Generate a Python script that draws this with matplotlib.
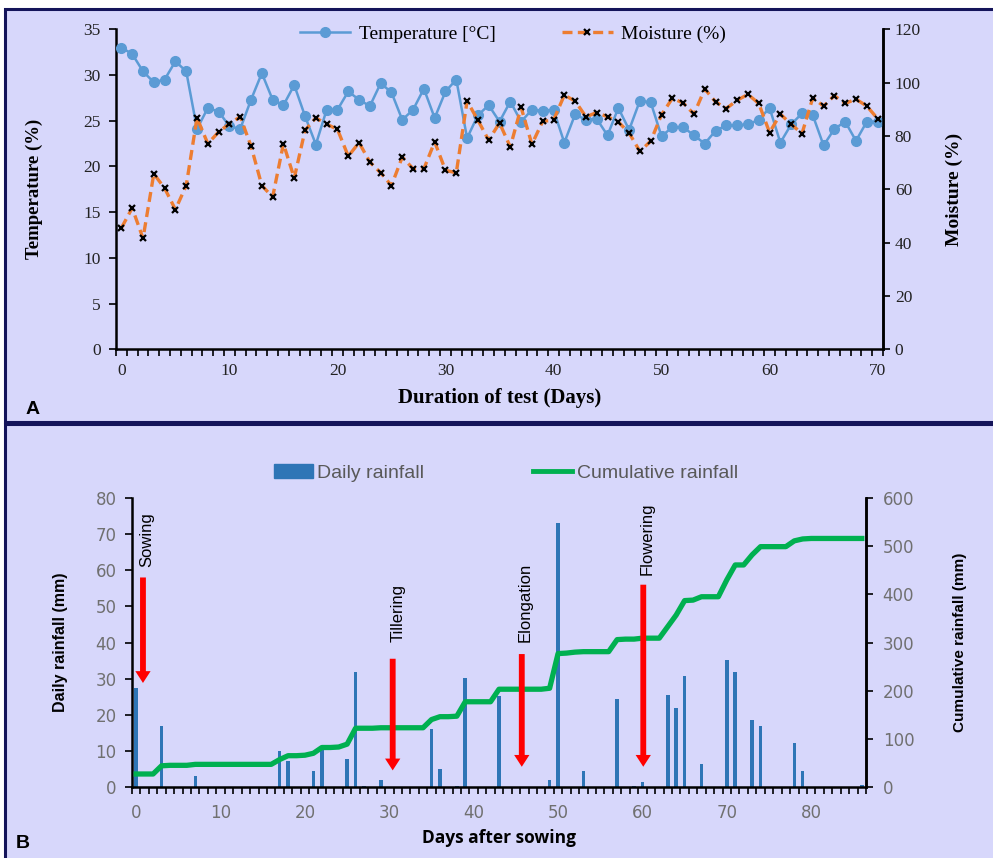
import matplotlib
matplotlib.use("Agg")
import matplotlib.pyplot as plt
import numpy as np
from matplotlib.patches import Rectangle, Patch
from matplotlib.lines import Line2D

# --- panel A: soil temperature / moisture over the test ---
test_days = list(range(71))
temperature = [33.0, 32.3, 30.4, 29.2, 29.5, 31.5, 30.4, 24.1, 26.4, 26.0,
               24.4, 24.1, 27.3, 30.2, 27.3, 26.7, 28.9, 25.5, 22.4, 26.2,
               26.2, 28.2, 27.3, 26.6, 29.1, 28.1, 25.1, 26.2, 28.5, 25.3,
               28.2, 29.5, 23.1, 25.6, 26.7, 24.9, 27.1, 24.9, 26.2, 26.1,
               26.2, 22.6, 25.7, 25.1, 25.2, 23.4, 26.4, 24.0, 27.2, 27.0,
               23.3, 24.3, 24.3, 23.4, 22.5, 23.9, 24.5, 24.5, 24.6, 25.1,
               26.4, 22.6, 24.6, 25.8, 25.6, 22.3, 24.1, 24.9, 22.8, 24.9,
               24.9]
moisture = [45.5, 53.0, 41.6, 65.8, 60.4, 52.4, 61.4, 86.8, 77.1, 81.5,
            84.6, 87.2, 76.2, 61.4, 57.1, 77.1, 64.2, 82.1, 86.8, 84.4,
            82.5, 72.4, 77.5, 70.2, 66.2, 61.4, 72.1, 67.7, 67.7, 77.8,
            67.1, 66.2, 93.1, 85.9, 78.4, 84.9, 75.9, 90.7, 76.9, 85.5,
            85.9, 95.3, 93.1, 87.2, 88.8, 87.2, 85.3, 81.1, 74.2, 78.1,
            88.0, 94.1, 92.4, 88.2, 97.6, 92.8, 90.3, 93.4, 95.6, 92.2,
            81.3, 88.2, 84.4, 80.9, 94.3, 91.2, 95.1, 92.2, 93.8, 91.2,
            86.5]

# --- panel B: rainfall after sowing ---
rain_days = [0, 3, 7, 17, 18, 21, 22, 25, 26, 27, 29, 35, 36, 38, 39, 43, 49,
             50, 53, 57, 59, 60, 63, 64, 65, 67, 70, 71, 73, 74, 78, 79, 86]
rain_mm = [27.4, 17.0, 3.0, 10.0, 7.2, 4.5, 10.5, 7.7, 31.8, 0.3, 1.9, 16.0,
           5.0, 0.3, 30.3, 25.2, 1.8, 73.0, 4.4, 24.3, 0.3, 1.4, 25.5, 22.0,
           30.7, 6.5, 35.2, 31.8, 18.6, 16.9, 12.1, 4.5, 0.5]
sow_days = list(range(87))
cum_rain = [27, 27, 27, 44, 45, 45, 45, 47, 47, 47,
            47, 47, 47, 47, 47, 47, 47, 57, 65, 65,
            66, 70, 82, 82, 83, 89, 122, 122, 122, 123,
            123, 123, 123, 123, 123, 140, 146, 146, 147, 177,
            177, 177, 177, 203, 203, 203, 203, 203, 203, 205,
            277, 278, 280, 281, 281, 281, 281, 306, 307, 307,
            309, 309, 309, 333, 357, 387, 388, 395, 395, 395,
            430, 461, 461, 482, 499, 499, 499, 499, 511, 515,
            516, 516, 516, 516, 516, 516, 516]
stages = ["Sowing", "Tillering", "Elongation", "Flowering"]
stage_x = [0.8, 30.4, 45.7, 60.1]

BG = "#d7d7fb"
W, H = 993, 858

fig = plt.figure(figsize=(W / 100, H / 100), dpi=100, facecolor="white")


def fx(px):
    return px / W


def fy(py):
    return 1 - py / H


# panel frames, kept underneath the axes
for top, bot in [(9, 422), (424, 860)]:
    fig.add_artist(Rectangle((fx(5), fy(bot)), fx(995 - 5), (bot - top) / H,
                             transform=fig.transFigure, facecolor=BG,
                             edgecolor="#14145a", lw=2.2, zorder=-5))

SERIF = ["Liberation Serif", "DejaVu Serif"]
SANS = ["Liberation Sans", "DejaVu Sans"]

# ---------------- panel A ----------------
axA = fig.add_axes([fx(116), fy(349.3), fx(883 - 116), (349.3 - 29.3) / H])
axA.set_facecolor("none")
axA2 = axA.twinx()
axA2.set_facecolor("none")
axA.set_xlim(-0.5, 70.5)
axA.set_ylim(0, 35)
axA2.set_ylim(0, 120)

lT, = axA.plot(test_days, temperature, "-o", color="#5b9bd5", lw=1.8,
               ms=7, label="Temperature [\u00b0C]", zorder=3)
lM, = axA2.plot(test_days, moisture, "--x", color="#ed7d31", lw=2.4,
                dashes=(3, 1.6), ms=5, mec="black", mew=1.6,
                label="Moisture (%)", zorder=3)

axA.set_yticks(np.arange(0, 36, 5))
axA2.set_yticks(np.arange(0, 121, 20))
axA.set_xticks(np.arange(0, 71, 10))
axA.set_xticks(np.arange(-0.5, 71, 1), minor=True)
axA.tick_params(axis="x", which="major", length=0, pad=10)
axA.tick_params(axis="x", which="minor", length=5, width=1.2, direction="out")
axA.tick_params(axis="y", length=5, width=1.2, direction="out", pad=6)
axA2.tick_params(axis="y", length=5, width=1.2, direction="out")
for ax in (axA, axA2):
    for lab in ax.get_xticklabels() + ax.get_yticklabels():
        lab.set_fontfamily(SERIF)
        lab.set_fontsize(12.5)
        lab.set_color("#222222")
    ax.spines["top"].set_visible(False)
    for s in ("left", "right", "bottom"):
        ax.spines[s].set_linewidth(1.8)
axA2.spines["left"].set_visible(False)
axA2.spines["bottom"].set_visible(False)

axA.set_xlabel("Duration of test (Days)", fontfamily=SERIF, fontsize=15,
               fontweight="bold", labelpad=6)
axA.set_ylabel("Temperature (%)", fontfamily=SERIF, fontsize=13.5,
               fontweight="bold", labelpad=29)
axA2.set_ylabel("Moisture (%)", fontfamily=SERIF, fontsize=14,
                fontweight="bold", labelpad=18)

fig.legend(handles=[lT, lM], loc="center", bbox_to_anchor=(fx(513), fy(34)),
           ncol=2, frameon=False, prop={"family": SERIF, "size": 14},
           handlelength=2.6, columnspacing=3.4, handletextpad=0.45)

fig.text(fx(26), fy(409), "A", fontfamily=SANS, fontsize=14,
         fontweight="bold", va="center")

# ---------------- panel B ----------------
axB = fig.add_axes([fx(132), fy(787), fx(866 - 132), (787 - 498) / H])
axB.set_facecolor("none")
axB2 = axB.twinx()
axB2.set_facecolor("none")
axB.set_xlim(-0.5, 86.5)
axB.set_ylim(0, 80)
axB2.set_ylim(0, 600)

axB.bar(rain_days, rain_mm, width=0.42, color="#2e75b6", zorder=2)
axB2.plot(sow_days, cum_rain, "-", color="#00b050", lw=3.8,
          solid_joinstyle="round", zorder=3)

# growth stage markers (tip, tail) in daily rainfall units
arrow_span = [(28.8, 58), (4.6, 35.5), (5.6, 36.8), (5.6, 56)]
text_base = [61, 40, 40, 58.8]
text_dx = [0.5, 0.7, 0.4, 0.5]
for name, x, (tip, tail), tb, dx in zip(stages, stage_x, arrow_span, text_base, text_dx):
    axB2.annotate("", xy=(x, tip * 7.5), xytext=(x, tail * 7.5),
                  arrowprops=dict(width=4.2, headwidth=11, headlength=8.5,
                                  shrink=0, color="#ff0000", lw=0),
                  zorder=5)
    axB2.text(x + dx, tb * 7.5, name, rotation=90, ha="center", va="bottom",
              fontfamily=SANS, fontsize=12, color="black", zorder=5)

axB.set_yticks(np.arange(0, 81, 10))
axB2.set_yticks(np.arange(0, 601, 100))
axB.set_xticks(np.arange(0, 81, 10))
axB.set_xticks(np.arange(-0.5, 87, 1), minor=True)
axB.tick_params(axis="x", which="major", length=0, pad=12)
axB.tick_params(axis="x", which="minor", length=5, width=1.2, direction="out")
axB.tick_params(axis="y", length=5, width=1.2, direction="out", pad=6)
axB2.tick_params(axis="y", length=5, width=1.2, direction="out", pad=7)
for ax in (axB, axB2):
    for lab in ax.get_xticklabels() + ax.get_yticklabels():
        lab.set_fontfamily("DejaVu Sans")
        lab.set_fontsize(12)
        lab.set_color("#707070")
    ax.spines["top"].set_visible(False)
    for s in ("left", "right", "bottom"):
        ax.spines[s].set_linewidth(1.8)
axB2.spines["left"].set_visible(False)
axB2.spines["bottom"].set_visible(False)

axB.set_xlabel("Days after sowing", fontfamily=["Open Sans", "DejaVu Sans"],
               fontsize=12.5, fontweight="bold", labelpad=5)
axB.set_ylabel("Daily rainfall (mm)", fontfamily=SANS, fontsize=11.5,
               fontweight="bold", labelpad=20)
axB2.set_ylabel("Cumulative rainfall (mm)", fontfamily=SANS, fontsize=11,
                fontweight="bold", labelpad=28)

legB = fig.legend(handles=[Patch(color="#2e75b6", label="Daily rainfall"),
                           Line2D([], [], color="#00b050", lw=3.5,
                                  label="Cumulative rainfall")],
                  loc="center", bbox_to_anchor=(fx(506), fy(473)), ncol=2,
                  frameon=False, prop={"family": SANS, "size": 14},
                  handlelength=2.0, handleheight=0.75, columnspacing=5.6,
                  handletextpad=0.25)
for t in legB.get_texts():
    t.set_color("#595959")

fig.text(fx(16), fy(843), "B", fontfamily=SANS, fontsize=14,
         fontweight="bold", va="center")

fig.savefig("out.png", dpi=100, facecolor="white")
